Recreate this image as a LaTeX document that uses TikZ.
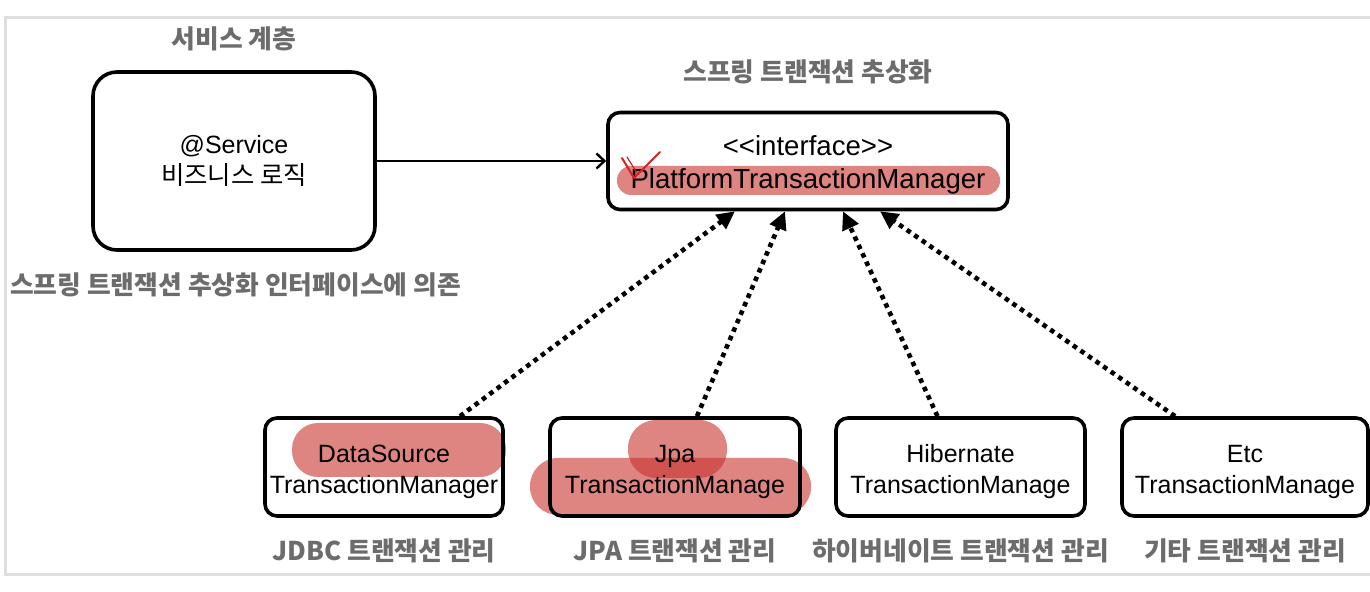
\documentclass[tikz,border=0pt]{standalone}
\usepackage{fontspec}
\setmainfont{Liberation Sans}
\newfontfamily\kr{Noto Sans CJK KR}
\usetikzlibrary{arrows.meta,positioning}

\definecolor{lblgray}{RGB}{108,108,108}
\definecolor{framegray}{RGB}{222,222,222}
\definecolor{hlred}{RGB}{200,50,45}
\definecolor{tickred}{RGB}{210,35,35}

\newcommand{\lift}[1]{\rule{0pt}{#1}}

\tikzset{
  box/.style={draw, line width=1.8pt, rounded corners=6pt, align=center, inner sep=0pt,
    font=\fontsize{12.5}{15.5}\selectfont},
  grouplabel/.style={text=lblgray, font=\kr\bfseries\fontsize{12.9}{15}\selectfont},
  realize/.style={-{Triangle[length=9pt,width=8.5pt]}, line width=2.3pt,
    dash pattern=on 2.3pt off 2.3pt},
  uses/.style={-{Straight Barb[length=4pt,width=7.5pt]}, line width=1.2pt},
  hilite/.style={fill=hlred, fill opacity=0.6}
}

\begin{document}
\begin{tikzpicture}[x=0.5pt, y=-0.5pt]
\useasboundingbox (0,0) rectangle (1370,592);
\draw[framegray, line width=1.5pt] (1375,18) -| (5,574) -- (1375,574);

% Markierungen
\fill[hilite, rounded corners=7pt] (617,166) rectangle (1000,195);
\fill[hilite, rounded corners=13pt] (292,423) rectangle (506,477);
\fill[hilite, rounded corners=14pt] (628,420) rectangle (727,478);
\fill[hilite, rounded corners=14pt] (530,458) rectangle (811,515);

% Boxen
\node[box, rounded corners=12pt, minimum width=141pt, minimum height=89pt] (svc) at (234,161)
  {@Service\\{\kr\fontsize{12.7}{16}\selectfont 비즈니스 로직}};
\node[box, minimum width=200pt, minimum height=48.5pt, font=\fontsize{13.8}{16.5}\selectfont] (pm) at (808,161)
  {\lift{14pt}{<}{<}interface{>}{>}\\PlatformTransactionManager};

\node[box, minimum width=119pt, minimum height=49pt] (b1) at (384,467) {\lift{13.5pt}DataSource\\TransactionManager};
\node[box, minimum width=125pt, minimum height=49pt] (b2) at (675,467) {\lift{13.5pt}Jpa\\TransactionManage};
\node[box, minimum width=124.5pt, minimum height=49pt] (b3) at (960.5,467) {\lift{13.5pt}Hibernate\\TransactionManage};
\node[box, minimum width=123pt, minimum height=49pt] (b4) at (1245,467) {\lift{13.5pt}Etc\\TransactionManage};

% Beschriftungen
\node[grouplabel, above=6pt of svc] (svclbl) {서비스 계층};
\node[grouplabel, above=10pt of pm] (pmlbl) {스프링 트랜잭션 추상화};
\node[grouplabel, anchor=west] (deplbl) at (3,285) {스프링 트랜잭션 추상화 인터페이스에 의존};

\node[grouplabel, below=7pt of b1] (l1) {JDBC 트랜잭션 관리};
\node[grouplabel, below=7pt of b2] (l2) {JPA 트랜잭션 관리};
\node[grouplabel, below=7pt of b3] (l3) {하이버네이트 트랜잭션 관리};
\node[grouplabel, below=7pt of b4] (l4) {기타 트랜잭션 관리};

% Pfeile
\draw[uses] (svc.east) -- (pm.west);
\draw[realize] ([xshift=38pt]b1.north) -- ([xshift=-36.5pt]pm.south);
\draw[realize] ([xshift=11pt]b2.north) -- ([xshift=-11.5pt]pm.south);
\draw[realize] ([xshift=-11.5pt]b3.north) -- ([xshift=17.5pt]pm.south);
\draw[realize] ([xshift=-35pt]b4.north) -- ([xshift=36pt]pm.south);

% Haken
\draw[tickred, line width=1pt, line cap=round, line join=round] (622,158) -- (634,178) -- (660,152);
\draw[tickred, line width=0.6pt, line cap=round] (627,157) -- (637,173);
\end{tikzpicture}
\end{document}
